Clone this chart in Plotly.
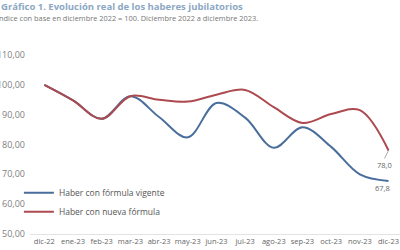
import plotly.graph_objects as go

# Índice real de haberes, base dic-22 = 100
meses = ["dic-22", "ene-23", "feb-23", "mar-23", "abr-23", "may-23", "jun-23",
         "jul-23", "ago-23", "sep-23", "oct-23", "nov-23", "dic-23"]
formula_vigente = [100.0, 94.8, 88.6, 96.2, 89.2, 82.4, 93.9,
                   89.0, 78.9, 85.8, 79.2, 70.0, 67.8]
nueva_formula = [100.0, 94.8, 88.6, 96.2, 95.0, 94.4, 96.7,
                 98.3, 92.5, 87.2, 90.2, 91.5, 78.0]

AZUL = "#4a6e9c"
ROJO = "#ad4a50"
FONT = "Open Sans"

fig = go.Figure()

fig.add_trace(go.Scatter(
    x=meses, y=formula_vigente,
    name="Haber con fórmula vigente",
    mode="lines",
    line=dict(color=AZUL, width=2, shape="spline", smoothing=1),
))
fig.add_trace(go.Scatter(
    x=meses, y=nueva_formula,
    name="Haber con nueva fórmula",
    mode="lines",
    line=dict(color=ROJO, width=2, shape="spline", smoothing=1),
))

def fmt(v):
    return f"{v:.1f}".replace(".", ",")

# etiquetas del último dato
fig.add_annotation(
    x=meses[-1], y=nueva_formula[-1], text=fmt(nueva_formula[-1]),
    showarrow=True, arrowhead=0, arrowwidth=0.7, arrowcolor="#888888",
    ax=-4, ay=8, font=dict(family=FONT, size=7.5, color="#666666"),
    yanchor="top",
)
fig.add_annotation(
    x=meses[-1], y=formula_vigente[-1], text=fmt(formula_vigente[-1]),
    showarrow=False, yanchor="top", xshift=-6, yshift=0,
    font=dict(family=FONT, size=7.5, color="#666666"),
)

# títulos
fig.add_annotation(
    xref="paper", yref="paper", x=-0.081, y=1.27, borderpad=0,
    text="<b>Gráfico 1. Evolución real de los haberes jubilatorios</b>",
    showarrow=False, xanchor="left", yanchor="middle",
    font=dict(family=FONT, size=9.5, color="#8ba7c3"),
)
fig.add_annotation(
    xref="paper", yref="paper", x=-0.092, y=1.205, borderpad=0,
    text="Índice con base en diciembre 2022 = 100. Diciembre 2022 a diciembre 2023.",
    showarrow=False, xanchor="left", yanchor="middle",
    font=dict(family=FONT, size=7.4, color="#777777"),
)

fig.update_layout(
    width=400, height=250,
    margin=dict(l=30, r=0, t=55, b=16),
    paper_bgcolor="white", plot_bgcolor="white",
    separators=",.",
    font=dict(family=FONT, size=8, color="#777777"),
    showlegend=True,
    legend=dict(
        x=-0.03, y=0.312, xanchor="left", yanchor="top",
        bgcolor="rgba(0,0,0,0)", itemwidth=30,
        font=dict(family=FONT, size=8.5, color="#555555"),
        tracegroupgap=0,
    ),
    xaxis=dict(
        range=[-0.5, 12.4], showgrid=False, showline=True,
        linecolor="#e3e3e3", linewidth=1, ticks="", zeroline=False,
        tickfont=dict(family=FONT, size=7.5, color="#666666"),
        fixedrange=True,
    ),
    yaxis=dict(
        range=[50, 110], dtick=10, tickformat=".2f",
        showgrid=False, showline=False, zeroline=False, ticks="",
        tickfont=dict(family=FONT, size=9, color="#808080"),
        automargin=False, fixedrange=True, ticklabelstandoff=4,
    ),
)

# la página por defecto deja 8px de margen en el body
fig.write_html(
    "out.html",
    config={"displayModeBar": False},
    post_script="document.body.style.margin='0';",
)
